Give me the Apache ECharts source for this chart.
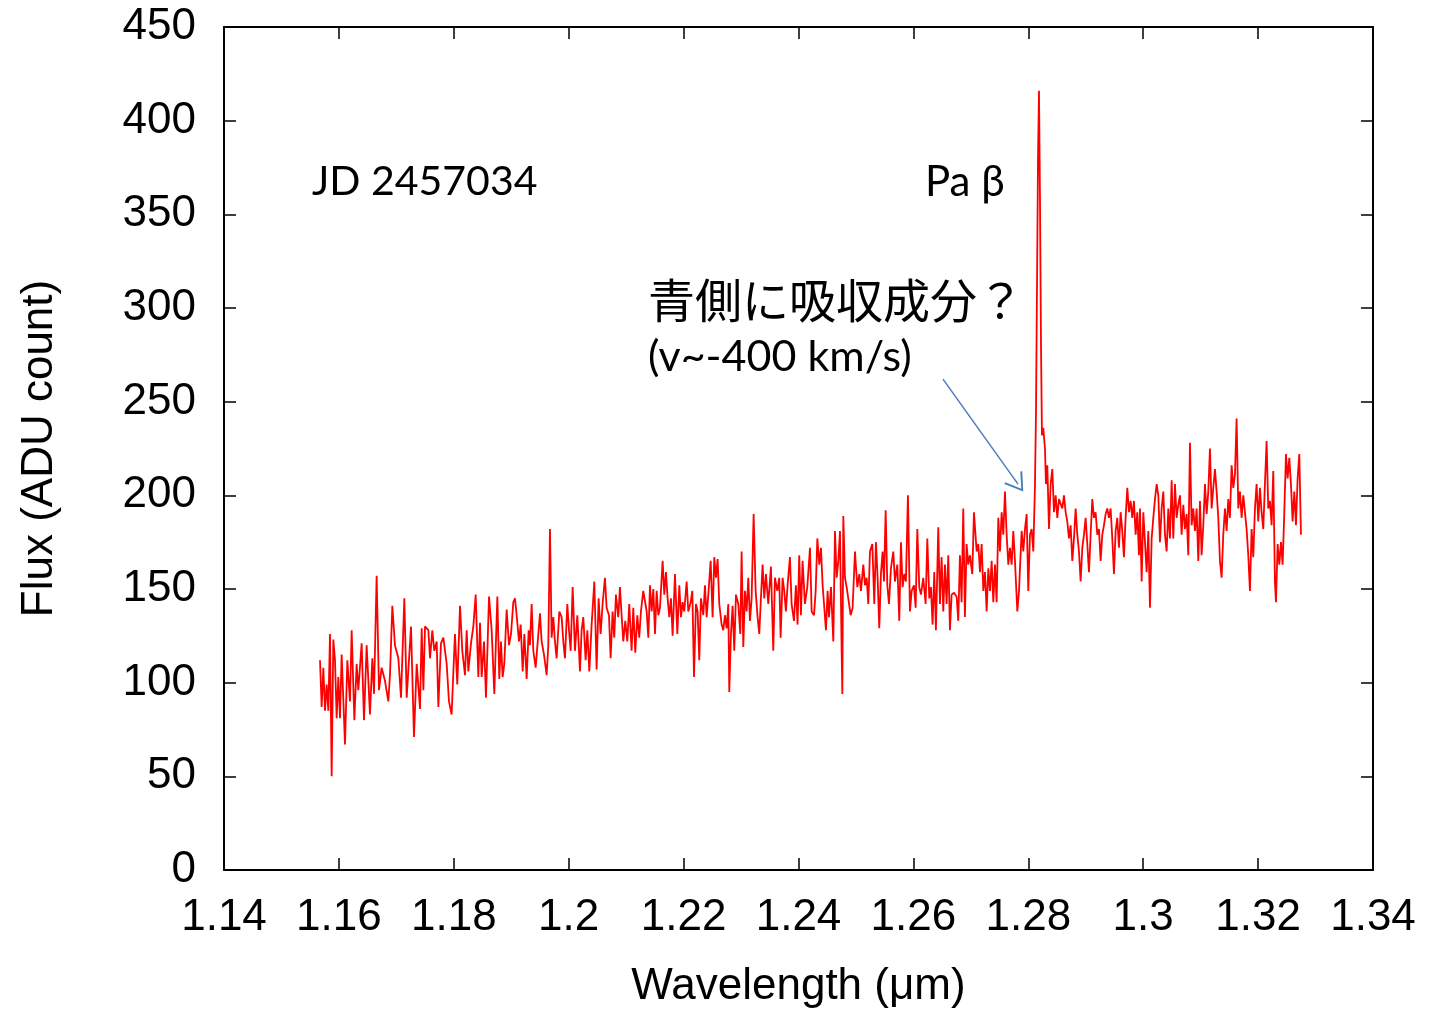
<!DOCTYPE html>
<html><head><meta charset="utf-8">
<script src="https://cdn.jsdelivr.net/npm/echarts@6/dist/echarts.min.js"></script>
<style>html,body{margin:0;padding:0;background:#fff}#c{width:1437px;height:1014px}</style>
</head><body><div id="c"></div>
<script>
// axis ranges [min, max, interval]
const xRange = [1.14, 1.34, 0.02];
const yRange = [0, 450, 50];
const xTitle = 'Wavelength (\u03bcm)';
const yTitle = 'Flux (ADU count)';

// spectrum segments (wavelength in um, flux in ADU count)
const wlA = [1.15671,1.15700,1.15729,1.15758,1.15787,1.15816,1.15845,1.15874,1.15903,1.15932,
1.15961,1.15990,1.16019,1.16048,1.16106,1.16147,1.16193,1.16222,1.16269,1.16309,
1.16338,1.16396,1.16437,1.16483,1.16541,1.16582,1.16611,1.16657,1.16698,1.16744,
1.16802,1.16860,1.16889,1.16930,1.16976,1.17035,1.17081,1.17139,1.17180,1.17255,
1.17307,1.17354,1.17412,1.17441,1.17470,1.17499,1.17557,1.17586,1.17626,1.17661,
1.17702,1.17731,1.17777,1.17818,1.17876,1.17916,1.17962,1.18020,1.18061,1.18108,
1.18148,1.18195,1.18224,1.18253,1.18299,1.18340,1.18381,1.18427];
const fluxA = [112,87,108,85,99,85,126,50,123,112,
81,103,81,115,67,112,90,128,80,110,
96,121,80,120,83,113,94,157,96,108,
101,90,104,141,120,113,92,145,92,130,
71,110,86,129,96,130,128,113,128,117,
122,87,121,124,110,90,83,126,99,141,
117,104,128,106,121,130,147,103];

const wlB = [1.18456,1.18485,1.18526,1.18560,1.18613,1.18659,1.18705,1.18758,1.18792,1.18821,
1.18850,1.18879,1.18920,1.18961,1.18996,1.19036,1.19065,1.19094,1.19135,1.19164,
1.19199,1.19228,1.19268,1.19303,1.19326,1.19355,1.19384,1.19425,1.19454,1.19500,
1.19529,1.19570,1.19616,1.19645,1.19674,1.19703,1.19732,1.19761,1.19790,1.19837,
1.19877,1.19906,1.19935,1.19976,1.20005,1.20034,1.20069,1.20109,1.20150,1.20196,
1.20225,1.20254,1.20295,1.20324,1.20359,1.20399,1.20446,1.20486,1.20521,1.20556,
1.20590,1.20631,1.20660,1.20701,1.20730,1.20764,1.20793,1.20822,1.20863,1.20892,
1.20921,1.20950,1.20985,1.21020,1.21054,1.21095,1.21124,1.21159,1.21194,1.21228,
1.21257,1.21298];
const fluxB = [132,103,122,92,146,128,94,146,102,122,
103,110,139,120,126,143,145,136,122,131,
106,126,102,128,120,142,117,108,107,137,
122,115,104,120,182,124,135,122,113,138,
135,122,113,142,128,117,151,117,136,106,
128,135,112,128,106,131,154,107,145,126,
142,156,140,136,113,138,124,147,135,151,
136,122,133,122,142,117,140,116,136,124,
138,149];

const wlC = [1.21328,1.21357,1.21386,1.21415,1.21444,1.21473,1.21502,1.21531,1.21560,1.21589,
1.21635,1.21664,1.21693,1.21722,1.21751,1.21780,1.21809,1.21850,1.21891,1.21925,
1.21954,1.21983,1.22012,1.22053,1.22082,1.22123,1.22152,1.22181,1.22215,1.22244,
1.22273,1.22302,1.22343,1.22372,1.22401,1.22430,1.22471,1.22505,1.22534,1.22563,
1.22592,1.22621,1.22662,1.22691,1.22720,1.22749,1.22778,1.22795,1.22824,1.22853,
1.22882,1.22911,1.22952,1.22987,1.23010,1.23039,1.23068,1.23097,1.23126,1.23155,
1.23184,1.23219,1.23254,1.23288,1.23317,1.23346,1.23375,1.23404,1.23433,1.23474,
1.23520,1.23561,1.23590,1.23631,1.23665,1.23689,1.23723,1.23752,1.23781,1.23810,
1.23851,1.23880,1.23921,1.23955,1.23984,1.24013,1.24042,1.24071,1.24112,1.24153];
const fluxC = [149,138,124,152,138,150,126,149,136,140,
165,147,159,145,135,145,125,158,126,152,
135,143,138,154,138,143,149,103,142,138,
112,145,136,152,135,147,165,135,167,156,
166,142,131,128,136,129,142,95,126,141,
117,147,142,126,170,119,149,138,156,133,
145,190,149,135,126,145,163,145,158,142,
162,117,156,149,156,124,156,149,138,152,
167,142,133,152,131,168,136,165,142,151];

const wlD = [1.24200,1.24229,1.24270,1.24299,1.24328,1.24362,1.24391,1.24420,1.24449,1.24478,
1.24507,1.24531,1.24565,1.24606,1.24635,1.24664,1.24693,1.24722,1.24751,1.24763,
1.24780,1.24809,1.24838,1.24867,1.24908,1.24942,1.24983,1.25024,1.25058,1.25087,
1.25128,1.25157,1.25186,1.25215,1.25244,1.25285,1.25319,1.25348,1.25377,1.25406,
1.25435,1.25464,1.25488,1.25517,1.25546,1.25575,1.25609,1.25650,1.25679,1.25720,
1.25754,1.25783,1.25812,1.25841,1.25870,1.25905,1.25940,1.25969,1.26010,1.26039,
1.26068,1.26102,1.26131,1.26172,1.26213,1.26242,1.26276,1.26305,1.26334,1.26363,
1.26392,1.26433,1.26462,1.26491,1.26520,1.26549,1.26578,1.26607,1.26636,1.26665,
1.26706,1.26752,1.26781,1.26810,1.26839,1.26868,1.26897,1.26926,1.26955,1.26984,
1.27025,1.27054];
const fluxD = [172,138,136,149,177,163,172,152,140,128,
149,135,151,122,181,156,165,181,117,94,
189,156,151,152,136,140,170,151,158,149,
163,152,156,142,170,174,142,175,156,129,
158,170,154,192,152,142,161,170,154,163,
133,175,151,158,154,200,138,149,152,140,
182,151,147,156,142,177,145,151,131,159,
128,183,142,167,138,163,142,168,128,147,
148,146,133,168,143,193,135,174,163,168,
158,191];

const wlE = [1.27101,1.27130,1.27159,1.27188,1.27217,1.27246,1.27275,1.27304,1.27333,1.27362,
1.27391,1.27420,1.27449,1.27478,1.27507,1.27536,1.27565,1.27594,1.27623,1.27652,
1.27681,1.27710,1.27739,1.27768,1.27809,1.27838,1.27884,1.27913,1.27942,1.27971,
1.28000,1.28029,1.28058,1.28087,1.28116,
1.28134,1.28151,1.28169,1.28186,1.28203,1.28221,1.28238,
1.28261,1.28290,1.28307,1.28331,1.28360,
1.28389,1.28418,1.28447,1.28476,1.28505,1.28534,1.28563,1.28592,1.28621,1.28650,
1.28679,1.28708,1.28737,1.28766,1.28795,1.28824,1.28853,1.28882,1.28911,1.28940,
1.28969,1.28998,1.29027,1.29056,1.29085,1.29114,1.29143,1.29172,1.29201,1.29230,
1.29259,1.29288,1.29317,1.29346,1.29375,1.29404,1.29433,1.29462,1.29491,1.29520,
1.29549,1.29578,1.29607,1.29636,1.29665,1.29694,1.29723,1.29752,1.29781,1.29810,
1.29839,1.29868,1.29897,1.29926];
const fluxE = [170,174,159,174,149,159,138,161,149,165,
143,163,143,188,170,191,179,202,179,163,
172,163,181,165,138,149,181,170,182,190,
149,179,182,170,205,
245,310,380,416,360,280,232,
236,225,206,216,182,
206,214,191,200,188,198,197,193,200,191,
186,177,184,165,177,193,179,170,154,172,
179,188,174,159,179,198,188,191,179,182,
165,179,184,190,193,188,193,177,158,181,
188,172,191,181,167,188,204,191,197,188,
197,179,191,168];

const wlF = [1.29944,1.29973,1.30002,1.30031,1.30060,1.30089,1.30118,1.30147,1.30176,1.30205,
1.30234,1.30263,1.30292,1.30321,1.30350,1.30379,1.30408,1.30437,1.30466,1.30495,
1.30524,1.30553,1.30582,1.30611,1.30640,1.30669,1.30698,1.30727,1.30756,1.30785,
1.30814,1.30843,1.30872,1.30901,1.30930,1.30959,1.30988,1.31017,1.31046,1.31075,
1.31104,1.31133,1.31162,1.31191,1.31220,1.31249,1.31278,1.31307,1.31336,1.31365,
1.31394,1.31423,1.31452,1.31481,1.31510,1.31539,1.31568,1.31597,1.31626,1.31655,
1.31684,1.31713,1.31742,1.31771,1.31800,1.31829,1.31858,1.31887,1.31916,1.31945,
1.31974,1.32003,1.32032,1.32061,1.32090,1.32119,1.32148,1.32177,1.32206,1.32235,
1.32264,1.32293,1.32311,1.32340,1.32369,1.32398,1.32427,1.32456,1.32485,1.32514,
1.32543,1.32572,1.32601,1.32630,1.32659,1.32688,1.32717,1.32746];
const fluxF = [193,154,191,175,159,181,140,177,188,198,
206,200,175,193,202,179,170,193,177,208,
177,206,188,195,200,179,195,182,190,168,
228,184,193,181,193,165,197,168,184,206,
190,202,225,193,204,214,202,188,165,156,
179,193,181,198,188,216,204,211,241,193,
202,188,200,191,182,168,149,182,167,193,
206,186,204,191,182,206,229,193,197,184,
213,154,143,174,163,175,163,191,222,209,
220,206,186,202,184,209,222,179];

// annotation arrow (data coordinates: wavelength, flux)
const arrowFrom = [1.26515, 262];
const arrowTo = [1.27821, 206];

const wavelength = [].concat(wlA, wlB, wlC, wlD, wlE, wlF);
const flux = [].concat(fluxA, fluxB, fluxC, fluxD, fluxE, fluxF);
const points = wavelength.map((w, i) => [w, flux[i]]);

const AXFONT = '"Liberation Sans", Arial, Helvetica, sans-serif';
const TXFONT = 'Lato, "Open Sans", sans-serif';

const chart = echarts.init(document.getElementById('c'), null, {renderer: 'canvas'});

function xAx(pos, labels) {
  return {
    type: 'value', position: pos, min: xRange[0], max: xRange[1], interval: xRange[2],
    axisLine: {show: true, onZero: false, lineStyle: {color: '#000', width: 2}},
    axisTick: {show: true, inside: true, length: 12, lineStyle: {color: '#000', width: 1.5}},
    axisLabel: {show: labels, color: '#000', fontSize: 44, fontFamily: AXFONT, margin: 26,
      formatter: v => String(+v.toFixed(2))},
    splitLine: {show: false},
    name: labels ? xTitle : '', nameLocation: 'middle', nameGap: 95,
    nameTextStyle: {color: '#000', fontSize: 44, fontFamily: AXFONT}
  };
}
function yAx(pos, labels) {
  return {
    type: 'value', position: pos, min: yRange[0], max: yRange[1], interval: yRange[2],
    axisLine: {show: true, onZero: false, lineStyle: {color: '#000', width: 2}},
    axisTick: {show: true, inside: true, length: 12, lineStyle: {color: '#000', width: 1.5}},
    axisLabel: {show: labels, color: '#000', fontSize: 44, fontFamily: AXFONT, margin: 28},
    splitLine: {show: false},
    name: labels ? yTitle : '', nameLocation: 'middle', nameGap: 162, nameRotate: 90,
    nameTextStyle: {color: '#000', fontSize: 44, fontFamily: AXFONT}
  };
}

chart.setOption({
  animation: false,
  backgroundColor: '#fff',
  grid: {left: 224, right: 64, top: 27, bottom: 141, containLabel: false},
  xAxis: [xAx('bottom', true), xAx('top', false)],
  yAxis: [yAx('left', true), yAx('right', false)],
  series: [{
    type: 'line', xAxisIndex: 0, yAxisIndex: 0,
    data: points, showSymbol: false, symbol: 'none',
    lineStyle: {color: '#ff0000', width: 1.8},
    markLine: {
      silent: true, animation: false,
      symbol: ['none', 'path://M10,0 L20,18 L18.4,19 L10,3.6 L1.6,19 L0,18 Z'],
      symbolSize: [22, 18],
      label: {show: false},
      lineStyle: {color: '#4a7ebb', width: 1.5, type: 'solid'},
      data: [[{coord: arrowFrom}, {coord: arrowTo}]]
    }
  }],
  graphic: [
    {type: 'text', x: 312, y: 182, style: {text: 'JD 2457034', font: '41px ' + TXFONT, fill: '#000', verticalAlign: 'middle', align: 'left'}},
    {type: 'text', x: 925, y: 182, style: {text: 'Pa \u03b2', font: '42px ' + TXFONT, fill: '#000', verticalAlign: 'middle', align: 'left'}},
    {type: 'text', x: 648, y: 300, style: {text: '青側に吸収成分？', font: '47px "Noto Sans CJK JP"', fill: '#000', verticalAlign: 'middle', align: 'left'}},
    {type: 'text', x: 648, y: 357, style: {text: '(v~-400 km/s)', font: '43px ' + TXFONT, fill: '#000', verticalAlign: 'middle', align: 'left'}}
  ]
});
</script></body></html>
